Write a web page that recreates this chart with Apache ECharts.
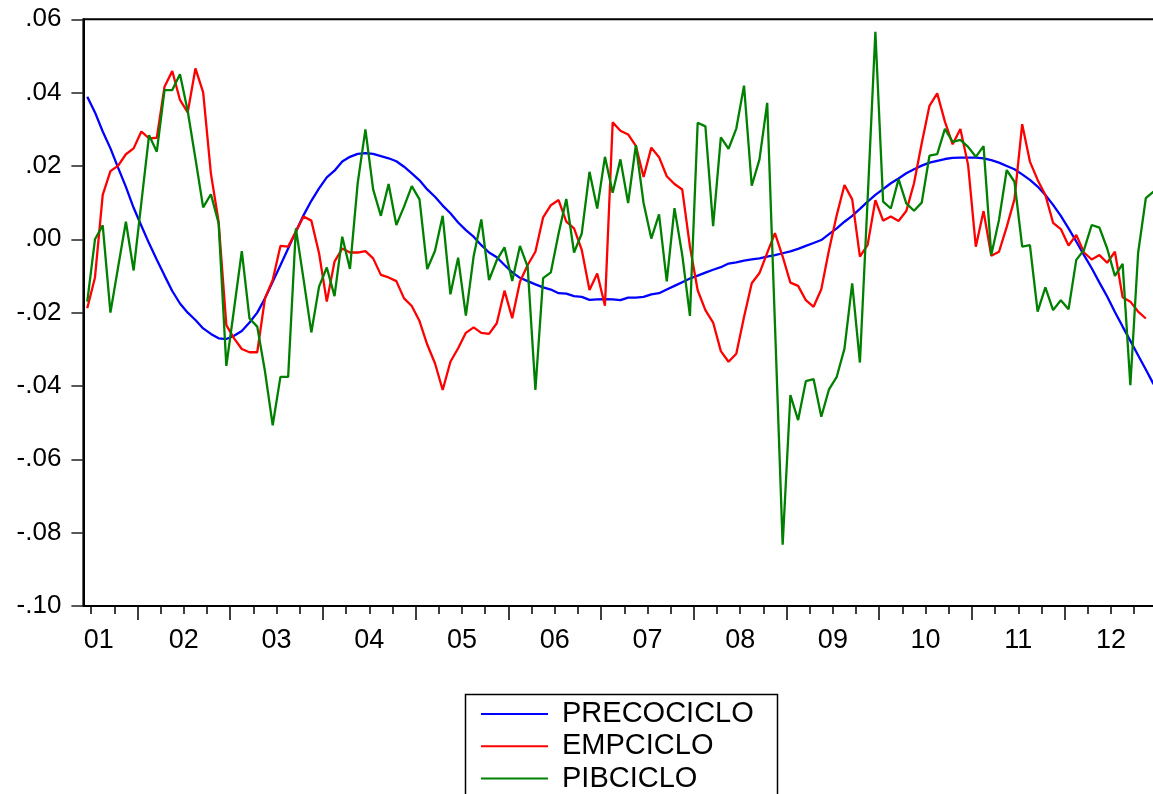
<!DOCTYPE html>
<html>
<head>
<meta charset="utf-8">
<title>PRECOCICLO, EMPCICLO, PIBCICLO</title>
<script src="https://cdn.jsdelivr.net/npm/echarts@6/dist/echarts.min.js"></script>
<style>
  html, body { margin: 0; padding: 0; background: #fff; overflow: hidden; }
  #chart { width: 1160px; height: 794px; }
</style>
</head>
<body>
<div id="chart"></div>
<script>
// Monthly cyclical components, June 2001 to December 2012.
const startMonth = 5; // months counted from January 2001 (0 = Jan 2001)

const yearLabels = ['01', '02', '03', '04', '05', '06', '07', '08', '09', '10', '11', '12'];
const yTicks = [-0.10, -0.08, -0.06, -0.04, -0.02, 0.00, 0.02, 0.04, 0.06];
const seriesNames = ['PRECOCICLO', 'EMPCICLO', 'PIBCICLO'];
const seriesColors = ['#0000ff', '#ff0000', '#008000'];

const precociclo = [
  0.0389, 0.0346, 0.0294, 0.0248, 0.0195, 0.0143, 0.0086, 0.0037, -0.0011, -0.0056,
  -0.0099, -0.0141, -0.0175, -0.0200, -0.0220, -0.0243, -0.0258, -0.0270, -0.0272, -0.0263,
  -0.0250, -0.0227, -0.0200, -0.0161, -0.0116, -0.0071, -0.0025, 0.0021, 0.0066, 0.0105,
  0.0139, 0.0169, 0.0187, 0.0212, 0.0225, 0.0233, 0.0235, 0.0233, 0.0227, 0.0221,
  0.0213, 0.0198, 0.0180, 0.0161, 0.0136, 0.0116, 0.0092, 0.0071, 0.0046, 0.0025,
  0.0007, -0.0016, -0.0036, -0.0049, -0.0070, -0.0090, -0.0105, -0.0114, -0.0123, -0.0131,
  -0.0137, -0.0147, -0.0148, -0.0155, -0.0157, -0.0165, -0.0164, -0.0163, -0.0164, -0.0166,
  -0.0159, -0.0159, -0.0157, -0.0150, -0.0147, -0.0137, -0.0127, -0.0117, -0.0107, -0.0099,
  -0.0091, -0.0083, -0.0076, -0.0066, -0.0063, -0.0058, -0.0055, -0.0052, -0.0047, -0.0043,
  -0.0038, -0.0033, -0.0026, -0.0018, -0.0010, -0.0002, 0.0014, 0.0030, 0.0048, 0.0064,
  0.0083, 0.0103, 0.0121, 0.0137, 0.0153, 0.0166, 0.0180, 0.0191, 0.0201, 0.0209,
  0.0214, 0.0219, 0.0222, 0.0223, 0.0223, 0.0223, 0.0221, 0.0216, 0.0209, 0.0200,
  0.0191, 0.0177, 0.0162, 0.0144, 0.0121, 0.0094, 0.0064, 0.0030, -0.0006, -0.0043,
  -0.0079, -0.0118, -0.0156, -0.0198, -0.0238, -0.0277, -0.0316, -0.0355, -0.0395
];

const empciclo = [
  -0.0188, -0.0104, 0.0121, 0.0186, 0.0201, 0.0232, 0.0248, 0.0294, 0.0275, 0.0277,
  0.0416, 0.0459, 0.0380, 0.0346, 0.0466, 0.0401, 0.0180, 0.0048, -0.0234, -0.0270,
  -0.0299, -0.0308, -0.0308, -0.0161, -0.0111, -0.0018, -0.0020, 0.0021, 0.0062, 0.0051,
  -0.0038, -0.0170, -0.0061, -0.0025, -0.0036, -0.0036, -0.0032, -0.0052, -0.0097, -0.0104,
  -0.0114, -0.0161, -0.0182, -0.0223, -0.0287, -0.0338, -0.0411, -0.0334, -0.0297, -0.0255,
  -0.0240, -0.0255, -0.0258, -0.0229, -0.0140, -0.0215, -0.0116, -0.0070, -0.0034, 0.0060,
  0.0093, 0.0107, 0.0048, 0.0030, -0.0029, -0.0138, -0.0093, -0.0181, 0.0319, 0.0296,
  0.0286, 0.0255, 0.0170, 0.0250, 0.0224, 0.0172, 0.0151, 0.0136, -0.0020, -0.0139,
  -0.0193, -0.0227, -0.0305, -0.0334, -0.0312, -0.0212, -0.0120, -0.0092, -0.0037, 0.0017,
  -0.0047, -0.0118, -0.0127, -0.0166, -0.0184, -0.0136, -0.0029, 0.0066, 0.0148, 0.0109,
  -0.0047, -0.0015, 0.0107, 0.0051, 0.0062, 0.0050, 0.0077, 0.0153, 0.0262, 0.0364,
  0.0398, 0.0321, 0.0259, 0.0301, 0.0203, -0.0020, 0.0077, -0.0045, -0.0034, 0.0034,
  0.0109, 0.0314, 0.0212, 0.0162, 0.0121, 0.0045, 0.0028, -0.0017, 0.0012, -0.0036,
  -0.0055, -0.0043, -0.0064, -0.0034, -0.0158, -0.0170, -0.0197, -0.0216
];

const pibciclo = [
  -0.0170, 0.0000, 0.0038, -0.0200, -0.0075, 0.0048, -0.0085, 0.0100, 0.0284, 0.0239,
  0.0407, 0.0407, 0.0450, 0.0350, 0.0220, 0.0087, 0.0123, 0.0044, -0.0345, -0.0190,
  -0.0032, -0.0216, -0.0238, -0.0360, -0.0507, -0.0375, -0.0375, 0.0030, -0.0110, -0.0254,
  -0.0129, -0.0077, -0.0155, 0.0007, -0.0081, 0.0153, 0.0300, 0.0136, 0.0064, 0.0151,
  0.0039, 0.0089, 0.0145, 0.0109, -0.0081, -0.0032, 0.0064, -0.0150, -0.0050, -0.0208,
  -0.0047, 0.0054, -0.0111, -0.0057, -0.0022, -0.0114, -0.0018, -0.0075, -0.0411, -0.0106,
  -0.0090, 0.0016, 0.0110, -0.0036, 0.0016, 0.0184, 0.0084, 0.0225, 0.0127, 0.0218,
  0.0099, 0.0257, 0.0099, 0.0002, 0.0068, -0.0115, 0.0085, -0.0042, -0.0209, 0.0318,
  0.0308, 0.0036, 0.0278, 0.0247, 0.0302, 0.0419, 0.0146, 0.0218, 0.0372, -0.0230,
  -0.0833, -0.0425, -0.0493, -0.0387, -0.0381, -0.0484, -0.0409, -0.0375, -0.0298, -0.0120,
  -0.0336, 0.0110, 0.0566, 0.0103, 0.0084, 0.0164, 0.0098, 0.0078, 0.0100, 0.0228,
  0.0232, 0.0301, 0.0266, 0.0271, 0.0252, 0.0225, 0.0254, -0.0043, 0.0053, 0.0189,
  0.0157, -0.0020, -0.0016, -0.0197, -0.0131, -0.0193, -0.0166, -0.0191, -0.0056, -0.0029,
  0.0039, 0.0032, -0.0025, -0.0100, -0.0067, -0.0398, -0.0038, 0.0112, 0.0130
];

const seriesValues = [precociclo, empciclo, pibciclo];

const FONT = '"Liberation Sans", Arial, Helvetica, sans-serif';

// each observation sits in the middle of its month
const toPoints = (arr) => arr.map((v, i) => [startMonth + i + 0.5, v]);

// x-axis decorations: quarter ticks, year ticks, year labels
const xMin = startMonth;
const xMax = 12 * yearLabels.length;
const quarterTicks = [];
const yearTicks = [];
for (let m = 3; m <= xMax; m += 3) {
  if (m <= xMin) continue;
  if (m % 12 === 0) yearTicks.push(m); else quarterTicks.push(m);
}
const labelPos = yearLabels.map((_, i) => (i === 0 ? 7 : 12 * i + 6));
const labelAt = new Map(labelPos.map((p, i) => [p, yearLabels[i]]));

const fmtY = (v) => {
  const s = (Math.round(v * 100) / 100).toFixed(2);
  return s.replace('0.', '.');
};

// legend box: one legend per row inside a framed rectangle
const legendLeft = 481;
const legendTop = 698;
const legendRow = 32.3;

const chart = echarts.init(document.getElementById('chart'), null, { renderer: 'canvas' });

chart.setOption({
  animation: false,
  backgroundColor: '#ffffff',
  textStyle: { fontFamily: FONT },
  grid: {
    left: 83.4,
    right: 2.6,
    top: 19.3,
    bottom: 188,
    show: true,
    borderColor: '#000',
    borderWidth: 2,
    backgroundColor: '#fff'
  },
  xAxis: [
    {
      type: 'value',
      min: xMin,
      max: xMax,
      position: 'bottom',
      axisLine: { show: true, onZero: false, lineStyle: { color: '#000', width: 2 } },
      axisTick: {
        show: true,
        customValues: quarterTicks,
        length: 8,
        lineStyle: { color: '#000', width: 1.5 }
      },
      axisLabel: {
        show: true,
        customValues: labelPos,
        formatter: (v) => labelAt.get(v) || '',
        margin: 21,
        fontSize: 27,
        color: '#000',
        fontFamily: FONT
      },
      splitLine: { show: false }
    },
    {
      type: 'value',
      min: xMin,
      max: xMax,
      position: 'bottom',
      axisLine: { show: false, onZero: false },
      axisTick: {
        show: true,
        customValues: yearTicks,
        length: 14,
        lineStyle: { color: '#000', width: 1.5 }
      },
      axisLabel: { show: false, customValues: yearTicks },
      splitLine: { show: false }
    }
  ],
  yAxis: {
    type: 'value',
    min: yTicks[0],
    max: yTicks[yTicks.length - 1],
    interval: 0.02,
    axisLine: { show: true, onZero: false, lineStyle: { color: '#000', width: 2 } },
    axisTick: { show: true, length: 12, lineStyle: { color: '#222', width: 1.5 } },
    axisLabel: {
      formatter: fmtY,
      margin: 22,
      fontSize: 26,
      color: '#000',
      fontFamily: FONT
    },
    splitLine: { show: false }
  },
  legend: seriesNames.map((name, i) => ({
    show: true,
    orient: 'vertical',
    left: legendLeft,
    top: legendTop + i * legendRow,
    icon: 'rect',
    itemWidth: 67,
    itemHeight: 2,
    padding: 0,
    selectedMode: false,
    textStyle: {
      fontSize: 29,
      lineHeight: 32,
      color: '#000',
      fontFamily: FONT,
      padding: [0, 0, 0, 9]
    },
    data: [name]
  })),
  graphic: [
    {
      type: 'rect',
      left: 463,
      top: 692,
      shape: { width: 312, height: 140 },
      style: { fill: 'none', stroke: '#000', lineWidth: 1.5 },
      silent: true
    }
  ],
  series: seriesNames.map((name, i) => ({
    name,
    type: 'line',
    data: toPoints(seriesValues[i]),
    showSymbol: false,
    symbol: 'none',
    color: seriesColors[i],
    lineStyle: { color: seriesColors[i], width: 2.3 }
  }))
});
</script>
</body>
</html>
